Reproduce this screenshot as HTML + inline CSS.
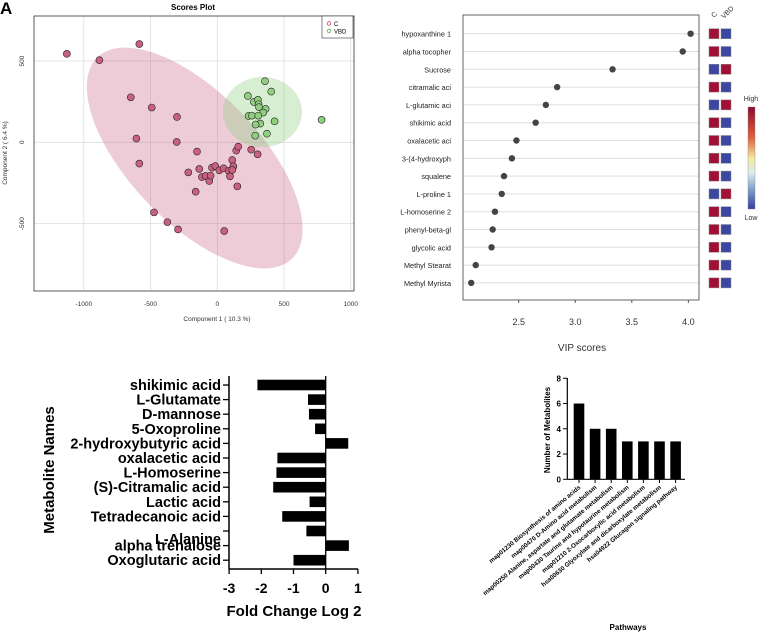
<!DOCTYPE html>
<html><head><meta charset="utf-8"><style>
html,body{margin:0;padding:0;background:#fff;width:762px;height:637px;overflow:hidden}
svg{display:block;font-family:"Liberation Sans",sans-serif}
</style></head><body>
<svg id="root" width="762" height="637" viewBox="0 0 762 637" xmlns="http://www.w3.org/2000/svg">
<text x="0" y="14" font-size="17" font-weight="bold">A</text>
<g id="pa"></g>
<g id="pb"></g>
<g id="pc"></g>
<g id="pd"></g>
</svg>
<script>
// ---- Panel A data ----
const cX=[-1127,-584,-883,-648,-491,-302,-606,-304,-584,-152,-217,-135,-115,-87,-60,-50,-40,-15,15,47,85,95,112,120,112,142,157,150,254,302,-162,-474,-374,-294,52];
const cY=[544,604,505,277,214,156,23,2,-131,-57,-185,-164,-214,-207,-238,-205,-156,-146,-172,-160,-175,-209,-109,-148,-170,-51,-27,-271,-45,-74,-304,-431,-491,-536,-546];
const vX=[357,404,229,274,304,309,312,362,344,234,259,307,429,322,287,781,372,284];
const vY=[376,312,285,248,261,234,216,205,183,162,164,164,129,115,109,138,53,41];
const aXTicks=[-1000,-500,0,500,1000];
const aYTicks=[500,0,-500];
// ---- Panel B data ----
const vipNames=["hypoxanthine 1","alpha tocopher","Sucrose","citramalic aci","L-glutamic aci","shikimic acid","oxalacetic aci","3-(4-hydroxyph","squalene","L-proline 1","L-homoserine 2","phenyl-beta-gl","glycolic acid","Methyl Stearat","Methyl Myrista"];
const vipVals=[4.02,3.95,3.33,2.84,2.74,2.65,2.48,2.44,2.37,2.35,2.29,2.27,2.26,2.12,2.08];
const vipCHigh=[1,1,0,1,0,1,1,1,1,0,1,1,1,1,1];
const vipTicks=[2.5,3.0,3.5,4.0];
// ---- Panel C data ----
const fcNames=["shikimic acid","L-Glutamate","D-mannose","5-Oxoproline","2-hydroxybutyric acid","oxalacetic acid","L-Homoserine","(S)-Citramalic acid","Lactic acid","Tetradecanoic acid","","alpha trehalose","Oxoglutaric acid"];
const fcVals=[-2.12,-0.55,-0.52,-0.33,0.70,-1.50,-1.53,-1.63,-0.50,-1.35,-0.60,0.72,-1.00];
const fcTicks=[-3,-2,-1,0,1];
// ---- Panel D data ----
const pwNames=["map01230 Biosynthesis of amino acids","map00470 D-Amino acid metabolism","map00250 Alanine, aspartate and glutamate metabolism","map00430 Taurine and hypotaurine metabolism","map01210 2-Oxocarboxylic acid metabolism","hsa00630 Glyoxylate and dicarboxylate metabolism","hsa04922 Glucagon signaling pathway"];
const pwVals=[6,4,4,3,3,3,3];
const pwTicks=[0,2,4,6,8];

const NS="http://www.w3.org/2000/svg";
function mk(parent,tag,attrs,txt){const e=document.createElementNS(NS,tag);for(const k in attrs)e.setAttribute(k,attrs[k]);if(txt!==undefined)e.textContent=txt;parent.appendChild(e);return e;}

// ===== Panel A =====
(function(){
const g=document.getElementById('pa');
const sx=v=>217.3+v*0.1335, sy=v=>142.3-v*0.1626;
let t=mk(g,'text',{x:193,y:10,'font-size':8,'font-weight':'bold','text-anchor':'middle'},'Scores Plot');

aXTicks.forEach(v=>{let l=mk(g,'line',{x1:sx(v),x2:sx(v),y1:16,y2:291,stroke:'#ddd','stroke-width':0.8});

let tx=mk(g,'text',{x:sx(v),y:306,'font-size':6.5,'text-anchor':'middle',fill:'#333'},v);
});
aYTicks.forEach(v=>{let l=mk(g,'line',{x1:34,x2:354,y1:sy(v),y2:sy(v),stroke:'#ddd','stroke-width':0.8});

let tx=mk(g,'text',{x:24,y:sy(v),'font-size':6.5,'text-anchor':'middle',fill:'#333',transform:`rotate(-90 24 ${sy(v)})`},v);
});
let e1=mk(g,'ellipse',{cx:194.7,cy:158,rx:140,ry:65,fill:'#c2557e','fill-opacity':0.3,transform:'rotate(46 194.7 158)'});

let e2=mk(g,'ellipse',{cx:262.5,cy:112,rx:39.5,ry:35,fill:'#8fcf7f','fill-opacity':0.35});

cX.forEach((v,i)=>{let c=mk(g,'circle',{cx:sx(v),cy:sy(cY[i]),r:3.5,fill:'#c9607f',stroke:'#222','stroke-width':0.6});
});
vX.forEach((v,i)=>{let c=mk(g,'circle',{cx:sx(v),cy:sy(vY[i]),r:3.5,fill:'#8fcf7f',stroke:'#222','stroke-width':0.6});
});
let fr=mk(g,'rect',{x:34,y:16,width:320,height:275,fill:'none',stroke:'#333','stroke-width':0.8});

let lg=mk(g,'g',{});
mk(lg,'rect',{x:322,y:16,width:31,height:22,fill:'#fff',stroke:'#333','stroke-width':0.6});
mk(lg,'circle',{cx:329,cy:23.5,r:1.8,fill:'none',stroke:'#d04060','stroke-width':0.8});
mk(lg,'text',{x:334,y:26,'font-size':6},'C');
mk(lg,'circle',{cx:329,cy:31,r:1.8,fill:'none',stroke:'#60b050','stroke-width':0.8});
mk(lg,'text',{x:334,y:33.5,'font-size':6},'VBD');
let xt=mk(g,'text',{x:217,y:321,'font-size':6.5,'text-anchor':'middle',fill:'#333'},'Component 1 ( 10.3 %)');

let yt=mk(g,'text',{x:7,y:153,'font-size':6.5,'text-anchor':'middle',fill:'#333',transform:'rotate(-90 7 153)'},'Component 2 ( 6.4 %)');

})();

// ===== Panel B =====
(function(){
const g=document.getElementById('pb');
const sx=v=>518.7+(v-2.5)*113.1, sy=i=>33.7+i*17.8;
vipNames.forEach((n,i)=>{
let l=mk(g,'line',{x1:463,x2:699,y1:sy(i),y2:sy(i),stroke:'#ddd','stroke-width':1});

let t=mk(g,'text',{x:451,y:sy(i)+3,'font-size':7.3,'text-anchor':'end',fill:'#222'},n);

let c=mk(g,'circle',{cx:sx(vipVals[i]),cy:sy(i),r:3.2,fill:'#444'});

const red='#a10f34',blue='#3b47a0';
let r1=mk(g,'rect',{x:709,y:sy(i)-5,width:10,height:10,fill:vipCHigh[i]?red:blue,stroke:'#888','stroke-width':0.5});

let r2=mk(g,'rect',{x:721,y:sy(i)-5,width:10,height:10,fill:vipCHigh[i]?blue:red,stroke:'#888','stroke-width':0.5});

});
let fr=mk(g,'rect',{x:463,y:15,width:236,height:285,fill:'none',stroke:'#555','stroke-width':0.9});

vipTicks.forEach(v=>{mk(g,'line',{x1:sx(v),x2:sx(v),y1:300,y2:303,stroke:'#555'});
let t=mk(g,'text',{x:sx(v),y:325,'font-size':9,'text-anchor':'middle',fill:'#333'},v.toFixed(1));
});
let xt=mk(g,'text',{x:582,y:351,'font-size':10,'text-anchor':'middle',fill:'#333'},'VIP scores');

let c1=mk(g,'text',{x:714,y:18,'font-size':7,fill:'#333',transform:'rotate(-45 714 18)'},'C');

let c2=mk(g,'text',{x:724,y:19,'font-size':7,fill:'#333',transform:'rotate(-45 724 19)'},'VBD');

const defs=mk(g,'defs',{});const lgd=mk(defs,'linearGradient',{id:'cb',x1:0,y1:0,x2:0,y2:1});
[['0','#8b0a30'],['0.3','#e0603a'],['0.5','#f5e8a0'],['0.65','#d8ecf0'],['0.85','#6a8cc0'],['1','#3a3c9c']].forEach(s=>mk(lgd,'stop',{offset:s[0],'stop-color':s[1]}));
let cb=mk(g,'rect',{x:748,y:107,width:7,height:102,fill:'url(#cb)',stroke:'#888','stroke-width':0.4});

let hi=mk(g,'text',{x:751,y:101,'font-size':7,'text-anchor':'middle',fill:'#333'},'High');

let lo=mk(g,'text',{x:751,y:220,'font-size':7,'text-anchor':'middle',fill:'#333'},'Low');

})();

// ===== Panel C =====
(function(){
const g=document.getElementById('pc');
const sx=v=>325.7+v*32.2, sy=i=>385+i*14.6;
fcNames.forEach((n,i)=>{
const v=fcVals[i];
let b=mk(g,'rect',{x:Math.min(sx(0),sx(v)),y:sy(i)-5.3,width:Math.abs(sx(v)-sx(0)),height:10.6,fill:'#000'});

mk(g,'line',{x1:223,x2:229,y1:sy(i),y2:sy(i),stroke:'#000','stroke-width':1.3});
if(n){let t=mk(g,'text',{x:221,y:sy(i)+5,'font-size':14.5,'font-weight':'bold','text-anchor':'end'},n);
}
});
let la=mk(g,'text',{x:221,y:544,'font-size':14.5,'font-weight':'bold','text-anchor':'end'},'L-Alanine');

mk(g,'line',{x1:229,x2:229,y1:376,y2:569,stroke:'#000','stroke-width':1.5});
mk(g,'line',{x1:229,x2:358,y1:569,y2:569,stroke:'#000','stroke-width':1.5});
mk(g,'line',{x1:sx(0),x2:sx(0),y1:376,y2:569,stroke:'#000','stroke-width':1.3});
fcTicks.forEach(v=>{mk(g,'line',{x1:sx(v),x2:sx(v),y1:569,y2:574,stroke:'#000','stroke-width':1.3});
let t=mk(g,'text',{x:sx(v),y:593,'font-size':14,'font-weight':'bold','text-anchor':'middle'},v);
});
let xt=mk(g,'text',{x:294,y:616,'font-size':15,'font-weight':'bold','text-anchor':'middle'},'Fold Change Log 2');

let yt=mk(g,'text',{x:54,y:470,'font-size':15,'font-weight':'bold','text-anchor':'middle',transform:'rotate(-90 54 470)'},'Metabolite Names');

})();

// ===== Panel D =====
(function(){
const g=document.getElementById('pd');
const sy=v=>479.3-v*12.63, sx=i=>579+i*16.1;
pwVals.forEach((v,i)=>{
let b=mk(g,'rect',{x:sx(i)-5.3,y:sy(v),width:10.6,height:sy(0)-sy(v),fill:'#000'});

mk(g,'line',{x1:sx(i),x2:sx(i),y1:479.3,y2:483,stroke:'#000','stroke-width':1});
let t=mk(g,'text',{x:sx(i)+2,y:488,'font-size':6.3,'font-weight':'bold','text-anchor':'end',transform:`rotate(-40 ${sx(i)+2} 488)`},pwNames[i]);

});
mk(g,'line',{x1:567.3,x2:567.3,y1:378,y2:479.3,stroke:'#000','stroke-width':1.2});
mk(g,'line',{x1:567.3,x2:685,y1:479.3,y2:479.3,stroke:'#000','stroke-width':1.2});
pwTicks.forEach(v=>{mk(g,'line',{x1:563,x2:567.3,y1:sy(v),y2:sy(v),stroke:'#000','stroke-width':1});
let t=mk(g,'text',{x:561,y:sy(v)+3,'font-size':8,'font-weight':'bold','text-anchor':'end'},v);
});
let yt=mk(g,'text',{x:550,y:430,'font-size':8,'font-weight':'bold','text-anchor':'middle',transform:'rotate(-90 550 430)'},'Number of Metabolites');

let xt=mk(g,'text',{x:628,y:630,'font-size':8,'font-weight':'bold','text-anchor':'middle'},'Pathways');

})();
</script>
</body></html>
